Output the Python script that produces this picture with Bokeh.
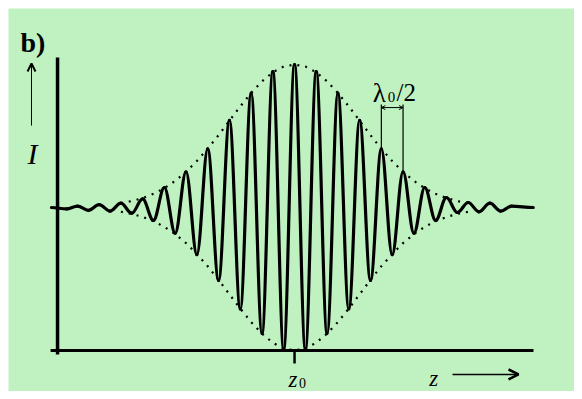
from bokeh.plotting import figure
from bokeh.models import Range1d, ColumnDataSource, Arrow, OpenHead
from bokeh.core.properties import value
from bokeh.embed import file_html
from bokeh.resources import INLINE

# ---- data (z in units of lambda0/2, I normalised to background level 1) ----
# extrema of the interference signal (alternating maxima / minima)
ext_z = [-11.2, -10.5, -10.0, -9.5, -9.0, -8.5, -8.0, -7.5, -7.0, -6.5, -6.0, -5.5,
         -5.0, -4.5, -4.0, -3.5, -3.0, -2.5, -2.0, -1.5, -1.0, -0.5, 0.0, 0.5,
         1.0, 1.5, 2.0, 2.5, 3.0, 3.5, 4.0, 4.5, 5.0, 5.5, 6.0, 6.5,
         7.0, 7.5, 8.0, 8.5, 9.0, 9.5, 10.0, 11.0]
ext_I = [1.00, 0.99, 1.01, 0.98, 1.02, 0.975, 1.03, 0.96, 1.06, 0.91, 1.14, 0.82,
         1.25, 0.67, 1.41, 0.49, 1.61, 0.29, 1.80, 0.12, 1.95, 0.01, 2.00, 0.01,
         1.95, 0.12, 1.80, 0.29, 1.61, 0.49, 1.41, 0.67, 1.25, 0.82, 1.14, 0.91,
         1.07, 0.965, 1.035, 0.97, 1.03, 0.975, 1.01, 1.00]

# dotted envelope (half-amplitude around background level)
env_z = [-8.0, -7.5, -7.0, -6.5, -6.0, -5.5, -5.0, -4.5, -4.0, -3.5, -3.0, -2.5,
         -2.0, -1.5, -1.0, -0.5, 0.0, 0.5, 1.0, 1.5, 2.0, 2.5, 3.0, 3.5,
         4.0, 4.5, 5.0, 5.5, 6.0, 6.5, 7.0, 7.5, 8.0]
env_amp = [0.03, 0.045, 0.066, 0.096, 0.135, 0.186, 0.249, 0.325, 0.411, 0.506, 0.607, 0.707,
           0.801, 0.882, 0.946, 0.986, 1.0, 0.986, 0.946, 0.882, 0.801, 0.707, 0.607, 0.506,
           0.411, 0.325, 0.249, 0.186, 0.135, 0.096, 0.066, 0.045, 0.03]
background_level = 1.0

# lambda0/2 marker between two neighbouring maxima
marker_z = [4.0, 5.0]
marker_peak = [1.41, 1.25]

BG = "#bff2c0"
SERIF = value("Liberation Serif")

p = figure(width=574, height=391, x_range=Range1d(-13.18, 12.90), y_range=Range1d(-0.287, 2.392),
           output_backend="svg", toolbar_location=None,
           min_border_left=8, min_border_top=8, min_border_right=0, min_border_bottom=0,
           x_axis_type=None, y_axis_type=None)
p.grid.visible = False
p.outline_line_color = None
p.background_fill_color = BG
p.border_fill_color = "white"

# axes drawn as lines
p.segment(x0=[-10.92], y0=[-0.028], x1=[-10.92], y1=[2.049], line_color="black", line_width=3.5)
p.segment(x0=[-11.24], y0=[0.0], x1=[11.01], y1=[0.0], line_color="black", line_width=3)
p.segment(x0=[0.0], y0=[0.0], x1=[0.0], y1=[-0.091], line_color="black", line_width=2.5)

# envelope (dotted)
up = [background_level + a for a in env_amp]
lo = [background_level - a for a in env_amp]
p.line(env_z, up, line_color="black", line_width=2.2, line_dash="2 6")
p.line(env_z, lo, line_color="black", line_width=2.2, line_dash="2 6")

# signal: cubic Bezier segments between consecutive extrema, horizontal tangents at extrema
k = 0.36
x0 = ext_z[:-1]; x1 = ext_z[1:]
y0 = ext_I[:-1]; y1 = ext_I[1:]
cx0 = [a + k * (b - a) for a, b in zip(x0, x1)]
cx1 = [b - k * (b - a) for a, b in zip(x0, x1)]
src = ColumnDataSource(dict(x0=x0, y0=y0, x1=x1, y1=y1, cx0=cx0, cy0=y0, cx1=cx1, cy1=y1))
p.bezier(x0="x0", y0="y0", x1="x1", y1="y1", cx0="cx0", cy0="cy0", cx1="cx1", cy1="cy1",
         source=src, line_color="black", line_width=3.2, line_cap="round")

# lambda0/2 marker
p.segment(x0=marker_z, y0=[1.72, 1.72], x1=marker_z, y1=marker_peak, line_color="black", line_width=1.2)
p.add_layout(Arrow(start=OpenHead(size=4, line_width=1), end=OpenHead(size=4, line_width=1),
                   x_start=marker_z[0], y_start=1.699, x_end=marker_z[1], y_end=1.699,
                   line_color="black", line_width=1))
p.text(x=[3.60], y=[1.804], text=["λ"], text_font=SERIF, text_font_size=value("27px"),
       text_align="left", text_baseline="alphabetic", text_color="black")
p.text(x=[4.30], y=[1.772], text=["0"], text_font=SERIF, text_font_size=value("15px"),
       text_align="left", text_baseline="alphabetic", text_color="black")
p.text(x=[4.70], y=[1.804], text=["/2"], text_font=SERIF, text_font_size=value("25px"),
       text_align="left", text_baseline="alphabetic", text_color="black")

# panel label
p.text(x=[-12.63], y=[2.154], text=["b)"], text_font=SERIF, text_font_style="bold",
       text_font_size=value("28px"), text_align="left", text_baseline="alphabetic", text_color="black")

# I arrow + label
p.add_layout(Arrow(end=OpenHead(size=8, line_width=2), x_start=-12.12, y_start=1.573,
                   x_end=-12.12, y_end=2.007, line_color="black", line_width=1))
p.text(x=[-12.07], y=[1.378], text=["I"], text_font=SERIF, text_font_style="italic",
       text_font_size=value("30px"), text_align="center", text_baseline="alphabetic", text_color="black")

# z0 label
p.text(x=[-0.07], y=[-0.203], text=["z"], text_font=SERIF, text_font_style="italic",
       text_font_size=value("23px"), text_align="center", text_baseline="alphabetic", text_color="black")
p.text(x=[0.20], y=[-0.231], text=["0"], text_font=SERIF,
       text_font_size=value("14px"), text_align="left", text_baseline="alphabetic", text_color="black")

# z arrow + label
p.text(x=[6.41], y=[-0.195], text=["z"], text_font=SERIF, text_font_style="italic",
       text_font_size=value("23px"), text_align="center", text_baseline="alphabetic", text_color="black")
p.add_layout(Arrow(end=OpenHead(size=10, line_width=2.5), x_start=7.28, y_start=-0.168,
                   x_end=10.32, y_end=-0.168, line_color="black", line_width=1.5))

open("out.html", "w").write(file_html(p, INLINE))
